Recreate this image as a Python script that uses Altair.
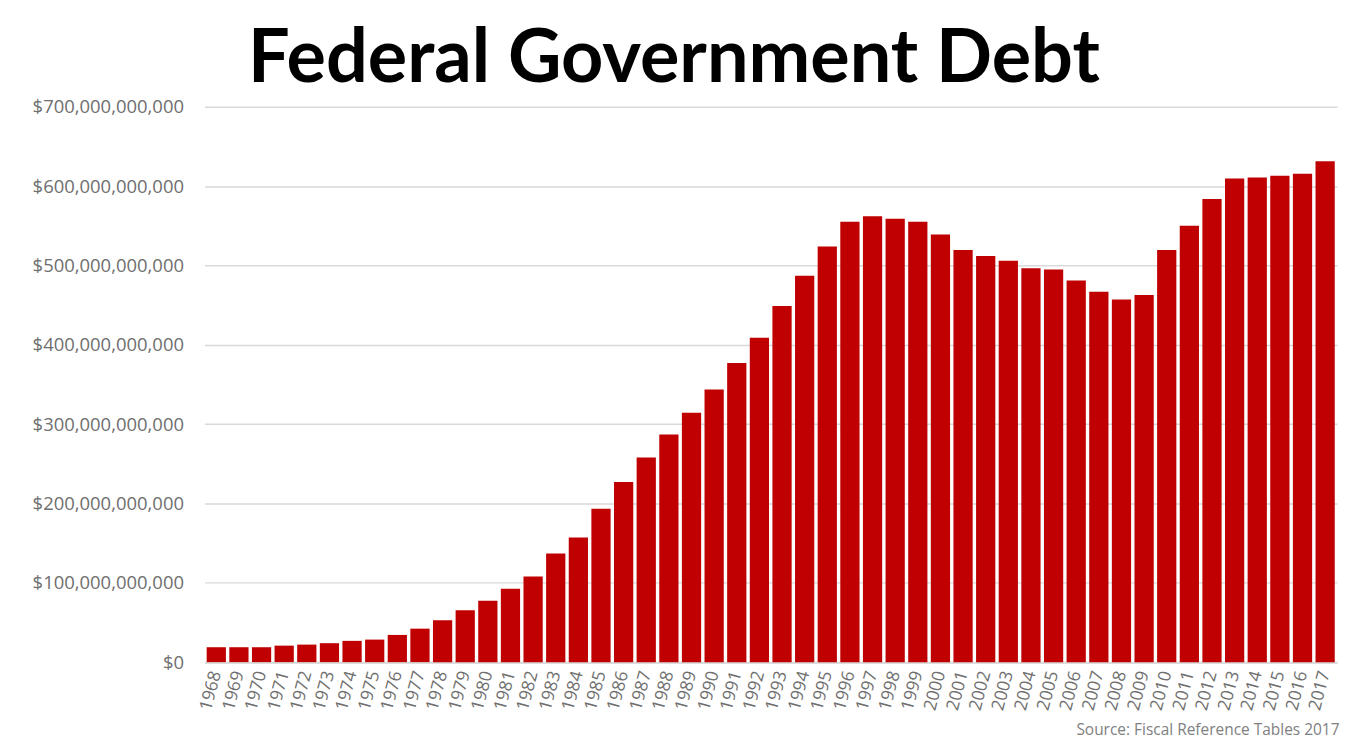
import altair as alt
import pandas as pd

years = ["1968", "1969", "1970", "1971", "1972", "1973", "1974", "1975", "1976", "1977",
         "1978", "1979", "1980", "1981", "1982", "1983", "1984", "1985", "1986", "1987",
         "1988", "1989", "1990", "1991", "1992", "1993", "1994", "1995", "1996", "1997",
         "1998", "1999", "2000", "2001", "2002", "2003", "2004", "2005", "2006", "2007",
         "2008", "2009", "2010", "2011", "2012", "2013", "2014", "2015", "2016", "2017"]

# Federal government debt, billions of dollars
debt_billions = [18.8, 18.8, 18.8, 20.8, 22.1, 23.9, 26.8, 28.4, 34.3, 42.2,
                 52.7, 65.3, 77.4, 92.5, 108.0, 137.0, 157.0, 193.5, 227.0, 258.0,
                 287.0, 314.5, 343.7, 377.0, 409.0, 449.0, 487.0, 524.0, 555.0, 562.0,
                 559.0, 555.0, 539.0, 519.5, 512.0, 506.0, 496.6, 495.0, 481.0, 467.0,
                 457.0, 462.7, 519.6, 550.0, 583.7, 609.7, 611.0, 613.0, 615.6, 631.4]

y_tick_values = [0, 100e9, 200e9, 300e9, 400e9, 500e9, 600e9, 700e9]

title_text = "Federal Government Debt"
source_text = "Source: Fiscal Reference Tables 2017"

df = pd.DataFrame({"Year": years, "Debt": [v * 1e9 for v in debt_billions]})

W, H = 1136, 557
LABEL_FONT = "Open Sans"
GRAY = "#6f6f6f"

chart = alt.Chart(df).mark_bar(color="#C00000").encode(
    x=alt.X(
        "Year:N",
        sort=None,
        scale=alt.Scale(paddingInner=0.15, paddingOuter=0.1),
        axis=alt.Axis(
            title=source_text,
            labelAngle=285,
            labelFont=LABEL_FONT,
            labelFontSize=17.5,
            labelColor=GRAY,
            labelPadding=9,
            ticks=False,
            grid=False,
            domain=True,
            domainColor="#d9d9d9",
            domainWidth=2,
            titleFont=LABEL_FONT,
            titleFontSize=15.5,
            titleFontWeight="normal",
            titleColor="#808080",
            titleAlign="right",
            titleAnchor="end",
            titleBaseline="alphabetic",
            titleX=W + 2,
            titleY=73,
        ),
    ),
    y=alt.Y(
        "Debt:Q",
        scale=alt.Scale(domain=[0, 700e9], nice=False),
        axis=alt.Axis(
            title=None,
            values=y_tick_values,
            format="$,.0f",
            grid=True,
            gridColor="#d9d9d9",
            gridWidth=1.5,
            domain=False,
            ticks=False,
            labelPadding=21,
            labelFont=LABEL_FONT,
            labelFontSize=18.5,
            labelColor=GRAY,
        ),
    ),
).properties(
    width=W,
    height=H,
    title=alt.TitleParams(
        text=title_text,
        font="Lato",
        fontSize=74,
        fontWeight="bold",
        color="#000000",
        anchor="middle",
        frame="group",
        dx=-97,
        dy=4,
        offset=4,
    ),
    autosize=alt.AutoSizeParams(type="none"),
    padding={"left": 197, "top": 98, "right": 6, "bottom": 78},
).configure(
    background="white"
).configure_view(
    stroke=None
)

chart.save("out.html", embed_options={"renderer": "svg", "actions": False})
